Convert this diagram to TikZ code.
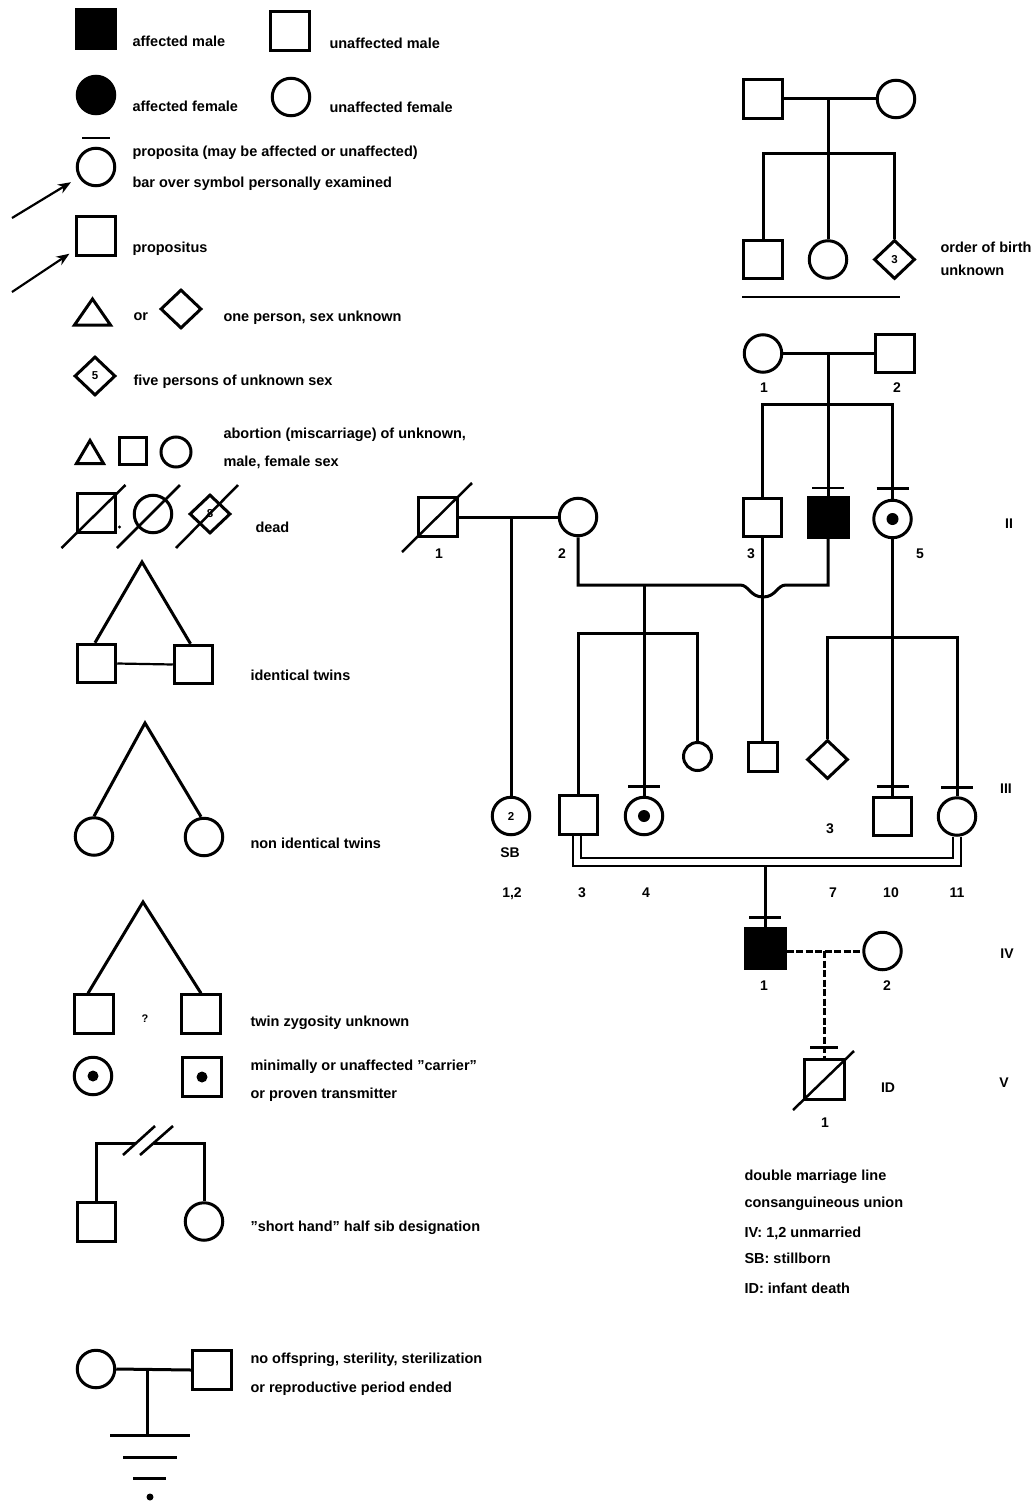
\documentclass[tikz,border=0pt]{standalone}
\usepackage{fontspec}
\setmainfont{Liberation Sans}
\usetikzlibrary{shapes.geometric,arrows.meta}
\newcommand\examinedbar[2]{\draw[line width=2.6pt] ([shift={(-16,#2)}]#1.north) -- ([shift={(16,#2)}]#1.north);}
\begin{document}
\begin{tikzpicture}[x=1pt,y=-1pt,line width=3pt,
  male/.style={draw,rectangle,minimum size=38.5pt,inner sep=0pt},
  fem/.style={draw,circle,minimum size=37.5pt,inner sep=0pt},
  unk/.style={draw,diamond,minimum width=41pt,minimum height=39pt,inner sep=0pt},
  aff/.style={fill=black},
  txt/.style={font=\bfseries\fontsize{14.5}{16}\selectfont,inner sep=0pt,anchor=base west},
  lab/.style={font=\bfseries\fontsize{14}{16}\selectfont,inner sep=0pt,anchor=base},
  innum/.style={font=\bfseries\fontsize{11.5}{12}\selectfont},
  slash/.style={line width=2.5pt},
  dsh/.style={dash pattern=on 7pt off 2.5pt},
  arr/.style={-{Stealth[length=13pt,width=10pt]},line width=2.2pt}
]
\useasboundingbox (0,0) rectangle (1034,1501);

% ---------------- legend ----------------
\node[male,aff] (am) at (96,29) {};
\node[txt] (tam) at (131,47) {affected male};
\node[male] (um) at (290,31) {};
\node[txt] (tum) at (328,49) {unaffected male};
\node[fem,aff] (af) at (96,95) {};
\node[txt] (taf) at (131,112) {affected female};
\node[fem] (uf) at (291,97) {};
\node[txt] (tuf) at (328,113) {unaffected female};

\node[fem] (pa) at (96,167) {};
\draw[line width=2.2pt] ([shift={(-14,-29)}]pa.center) -- ([shift={(14,-29)}]pa.center);
\node[txt] (tpa1) at (131,157) {proposita (may be affected or unaffected)};
\node[txt] (tpa2) at (131,187) {bar over symbol personally examined};
\coordinate (arA) at (12,218);
\draw[arr,shorten >=9pt] (arA) -- (pa);

\node[male] (ps) at (96,236) {};
\node[txt] (tps) at (131,252) {propositus};
\coordinate (arB) at (12,292);
\draw[arr,shorten >=7pt] (arB) -- (ps);

\draw (74.5,325) -- (92.5,299) -- (110.5,325) -- cycle;
\node[txt] (tor) at (132,320) {or};
\node[unk] (su) at (181,309) {};
\node[txt] (tsu) at (222,321) {one person, sex unknown};

\node[unk,innum] (s5) at (95,376) {5};
\node[txt] (ts5) at (132,385) {five persons of unknown sex};

\draw (76.5,463.5) -- (90,440.5) -- (103.5,463.5) -- cycle;
\node[male,minimum size=27pt] (abm) at (133,451) {};
\node[fem,minimum size=30pt] (abf) at (176,452) {};
\node[txt] (tab1) at (222,438) {abortion (miscarriage) of unknown,};
\node[txt] (tab2) at (222,466) {male, female sex};

\node[male] (dm) at (96.5,513) {};
\draw[slash] ([shift={(-35,35)}]dm.center) -- ([shift={(29,-28)}]dm.center);
\fill (119.5,527) circle[radius=1.6pt];
\node[fem] (dfm) at (153,514) {};
\draw[slash] ([shift={(-36,34)}]dfm.center) -- ([shift={(27,-29)}]dfm.center);
\node[unk,innum] (du) at (210,514) {8};
\draw[slash] ([shift={(-34,34)}]du.center) -- ([shift={(28,-29)}]du.center);
\node[txt] (tdead) at (254,532) {dead};

% twins
\coordinate (ita) at (142,562);
\node[male] (it1) at (96.5,663.5) {};
\node[male] (it2) at (193.5,664.5) {};
\draw ([xshift=-1.5pt]it1.north) -- (ita) -- ([xshift=-3pt]it2.north);
\draw[line width=2.2pt] (it1.east) -- (it2.west);
\node[txt] (tit) at (249,680) {identical twins};

\coordinate (nta) at (145,723);
\node[fem] (nt1) at (94,836.5) {};
\node[fem] (nt2) at (204,837) {};
\draw (nt1.north) -- (nta) -- ([xshift=-3pt]nt2.north);
\node[txt] (tnt) at (249,848) {non identical twins};

\coordinate (uta) at (143,902);
\node[male] (ut1) at (94,1014) {};
\node[male] (ut2) at (201,1014) {};
\draw ([xshift=-6pt]ut1.north) -- (uta) -- (ut2.north);
\node[font=\bfseries\fontsize{11}{12}\selectfont,anchor=base,inner sep=0pt] (q) at (145,1022) {?};
\node[txt] (tut) at (249,1026) {twin zygosity unknown};

\node[fem] (cf) at (93,1076) {};
\fill (cf.center) circle[radius=5.5pt];
\node[male] (cm) at (202,1077) {};
\fill (cm.center) circle[radius=5.5pt];
\node[txt] (tc1) at (249,1070) {minimally or unaffected ''carrier''};
\node[txt] (tc2) at (249,1098) {or proven transmitter};

\node[male] (hs1) at (96.5,1222) {};
\node[fem] (hs2) at (204,1221.5) {};
\coordinate (hsL) at (96.5,1143);
\coordinate (hsR) at (204,1143);
\draw (hs1.north) -- (hsL) -- (136,1143);
\draw (154,1143) -- (hsR) -- (hs2.north);
\draw[line width=2.6pt] (123,1155) -- (155,1126);
\draw[line width=2.6pt] (140,1155) -- (173,1126);
\node[txt] (ths) at (249,1231) {''short hand'' half sib designation};

\node[fem] (nof) at (96,1369) {};
\node[male] (nom) at (212,1370) {};
\draw (nof.east) -- (nom.west);
\coordinate (noj) at (147,1369);
\coordinate (nog) at (147,1435);
\draw (noj) -- (nog);
\draw ([xshift=-37pt]nog) -- ([xshift=43pt]nog);
\draw (123,1457) -- (177,1457);
\draw (133,1478) -- (166,1478);
\fill (150,1497) circle[radius=3.5pt];
\node[txt] (tno1) at (249,1363) {no offspring, sterility, sterilization};
\node[txt] (tno2) at (249,1392) {or reproductive period ended};

% ---------------- order of birth unknown ----------------
\node[male] (oa) at (763,99) {};
\node[fem] (ob) at (896,99) {};
\draw (oa.east) -- (ob.west);
\coordinate (oj) at (828,99);
\coordinate (os) at (828,153);
\draw (oj) -- (os);
\node[male] (oc1) at (763,259.5) {};
\node[fem] (oc2) at (828,259.5) {};
\node[unk,innum] (oc3) at (894.5,259.5) {3};
\draw (oc1.north) |- (os) -| (oc3.north);
\draw (os) -- (oc2.north);
\node[txt] (tob1) at (939,252) {order of birth};
\node[txt] (tob2) at (939,275) {unknown};
\draw[line width=2pt] (742,297) -- (900,297);

% ---------------- main pedigree ----------------
\node[fem] (I1) at (763,353.5) {};
\node[male] (I2) at (895,353.5) {};
\draw (I1.east) -- (I2.west);
\coordinate (Ij) at (828,353.5);
\coordinate (Is) at (828,404);
\node[lab] (lI1) at (764,392) {1};
\node[lab] (lI2) at (897,392) {2};

\node[male] (II1) at (438,517) {};
\draw[slash] ([shift={(-36,35)}]II1.center) -- ([shift={(34,-34)}]II1.center);
\node[fem] (II2) at (578,517) {};
\node[male] (II3) at (762.5,517.5) {};
\node[male,aff,minimum size=40pt] (II4) at (828,517.5) {};
\node[fem] (II5) at (892.5,519) {};
\fill (II5.center) circle[radius=6pt];
\draw (Ij) -- (II4.north);
\draw (II3.north) |- (Is) -| (II5.north);
\examinedbar{II4}{-8}
\examinedbar{II5}{-10}
\node[lab] (lII1) at (439,558) {1};
\node[lab] (lII2) at (562,558) {2};
\node[lab] (lII3) at (751,558) {3};
\node[lab] (lII5) at (920,558) {5};
\node[lab] (gII) at (1009,528) {II};

\draw (II1.east) -- (II2.west);
\coordinate (IIj) at (511,517);
\node[fem,innum] (SB) at (511,816) {2};
\draw (IIj) -- (SB.north);
\node[lab] (lSB) at (510,857) {SB};

\coordinate (mA) at (578,585);
\coordinate (mB) at (740,585);
\coordinate (mH) at (763,597);
\coordinate (mC) at (786,585);
\coordinate (mD) at (828,585);
\draw (II2.south) -- (mA) -- (mB) .. controls (749,585) and (750,597) .. (mH) .. controls (776,597) and (777,585) .. (mC) -- (mD) -- (II4.south);
\coordinate (mJ) at (644,585);
\node[fem] (III4) at (644,816) {};
\fill (III4.center) circle[radius=6pt];
\draw (mJ) -- (III4.north);
\examinedbar{III4}{-9}

\node[male,minimum size=29pt] (III5) at (762.5,756.5) {};
\draw (II3.south) -- (III5.north);

\coordinate (sR) at (697.5,633);
\node[male] (III3) at (578.5,815) {};
\node[fem,minimum size=28pt] (III6) at (697.5,756.5) {};
\draw (III3.north) |- (sR) -- (III6.north);

\coordinate (rs) at (892.5,637);
\node[unk] (III7) at (827.5,759.5) {};
\node[male] (III10) at (892.5,816.5) {};
\node[fem] (III11) at (957,816.5) {};
\draw (II5.south) -- (III10.north);
\draw (III7.north) |- (rs) -| (III11.north);
\examinedbar{III10}{-9}
\examinedbar{III11}{-9}
\node[lab] (l3n) at (830,833) {3};
\node[lab] (gIII) at (1006,793) {III};

\coordinate (ou) at (765,866);
\coordinate (inn) at (765,858);
\draw[line width=2.2pt] ([xshift=-5.5pt]III3.south) |- (ou) -| ([xshift=4pt]III11.south);
\draw[line width=2.2pt] ([xshift=2.5pt]III3.south) |- (inn) -| ([xshift=-4pt]III11.south);

\node[lab] (b12) at (512,897) {1,2};
\node[lab] (b3) at (582,897) {3};
\node[lab] (b4) at (646,897) {4};
\node[lab] (b7) at (833,897) {7};
\node[lab] (b10) at (891,897) {10};
\node[lab] (b11) at (957,897) {11};

\node[male,aff,minimum size=40pt] (IV1) at (765,948) {};
\draw (ou) -- (IV1.north);
\examinedbar{IV1}{-9}
\node[fem] (IV2) at (882.5,951) {};
\draw[dsh] ([yshift=-3pt]IV1.east) -- (IV2.west);
\coordinate (IVj) at (824,951);
\node[male,minimum size=40pt] (V1) at (824,1079) {};
\draw[dsh] (IVj) -- (V1.north);
\draw[line width=2.6pt] ([shift={(-14,-10)}]V1.north) -- ([shift={(14,-10)}]V1.north);
\draw[slash] ([shift={(-31,31)}]V1.center) -- ([shift={(30,-28)}]V1.center);

\node[lab] (lIV1) at (764,990) {1};
\node[lab] (lIV2) at (887,990) {2};
\node[lab] (gIV) at (1007,958) {IV};
\node[lab] (lV1) at (825,1127) {1};
\node[lab] (lID) at (888,1092) {ID};
\node[lab] (gV) at (1004,1087) {V};

\node[txt] (n1) at (743,1180) {double marriage line};
\node[txt] (n2) at (743,1207) {consanguineous union};
\node[txt] (n3) at (743,1237) {IV: 1,2 unmarried};
\node[txt] (n4) at (743,1263) {SB: stillborn};
\node[txt] (n5) at (743,1293) {ID: infant death};
\end{tikzpicture}
\end{document}
